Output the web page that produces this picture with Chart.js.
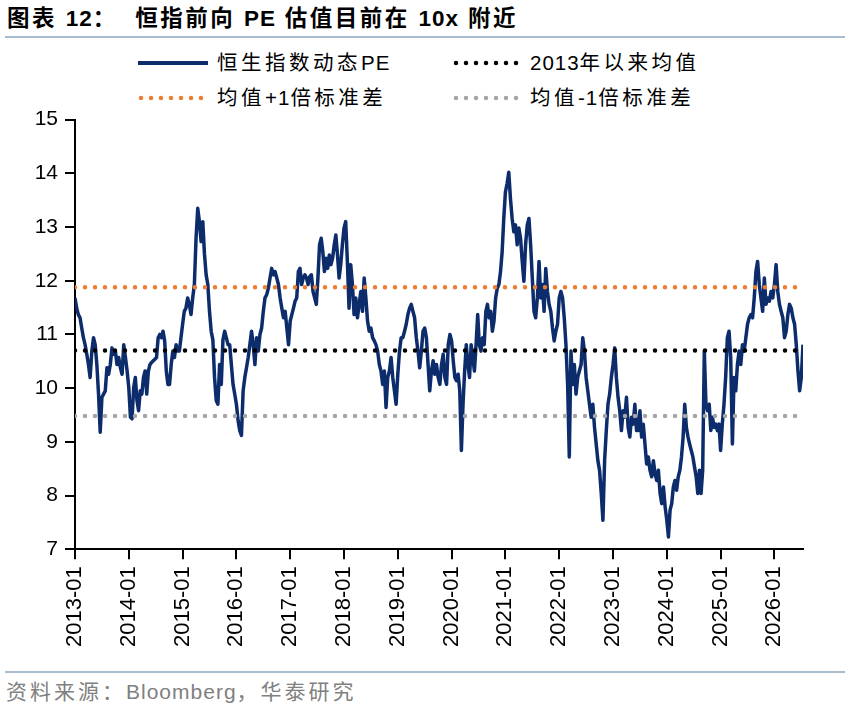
<!DOCTYPE html>
<html><head><meta charset="utf-8">
<script src="https://cdn.jsdelivr.net/npm/chart.js@4.4.1/dist/chart.umd.min.js"></script>
<style>
html,body{margin:0;padding:0;background:#fff;}
#page{position:relative;width:849px;height:716px;overflow:hidden;font-family:"Liberation Sans","Noto Sans CJK SC",Arial,sans-serif;color:#000;}
#title{position:absolute;left:7px;top:6px;font-size:22.5px;font-weight:bold;letter-spacing:2.5px;line-height:26px;white-space:nowrap;}
.rule{position:absolute;left:5px;width:840px;height:2px;background:#a7bbd1;}
.lg{position:absolute;font-size:20.5px;letter-spacing:3.5px;line-height:24px;white-space:nowrap;}
.sw{position:absolute;}
#src{position:absolute;left:6px;top:680px;font-size:21px;letter-spacing:3px;color:#808080;line-height:24px;white-space:nowrap;}
.la{letter-spacing:1px;}
#wrap{position:absolute;left:0;top:100px;width:849px;height:560px;}
</style></head>
<body>
<div id="page">
  <div id="title">图表 <span class="la">12</span>：&nbsp; 恒指前向 <span class="la">PE</span> 估值目前在 <span class="la">10x</span> 附近</div>
  <div class="rule" style="top:36px"></div>

  <svg class="sw" style="left:138px;top:59px" width="72" height="8"><line x1="0" y1="4" x2="70" y2="4" stroke="#0c2c6c" stroke-width="4"/></svg>
  <div class="lg" style="left:217px;top:51px">恒生指数动态<span class="la">PE</span></div>
  <svg class="sw" style="left:453px;top:59px" width="72" height="8"><line x1="3" y1="4" x2="66" y2="4" stroke="#000" stroke-width="4.5" stroke-linecap="round" stroke-dasharray="0 10"/></svg>
  <div class="lg" style="left:530px;top:51px"><span class="la">2013</span>年以来均值</div>
  <svg class="sw" style="left:138px;top:94px" width="72" height="8"><line x1="3" y1="4" x2="66" y2="4" stroke="#ED7D31" stroke-width="4.5" stroke-linecap="round" stroke-dasharray="0 10"/></svg>
  <div class="lg" style="left:217px;top:86px">均值<span class="la">+1</span>倍标准差</div>
  <svg class="sw" style="left:453px;top:94px" width="72" height="8"><line x1="3" y1="4" x2="66" y2="4" stroke="#A5A5A5" stroke-width="4.5" stroke-linecap="round" stroke-dasharray="0 10"/></svg>
  <div class="lg" style="left:530px;top:86px">均值<span class="la">-1</span>倍标准差</div>

  <div id="wrap"><canvas id="c" width="849" height="560"></canvas></div>

  <div class="rule" style="top:671px"></div>
  <div id="src">资料来源：<span class="la">Bloomberg</span>，华泰研究</div>
</div>
<script>
// Hang Seng Index forward PE, sampled ~every 11 days within each year
const pe2013 = [11.68,11.49,11.37,11.31,11.12,10.94,10.81,10.63,10.44,10.20,10.69,10.94,10.81,10.44,9.89,9.18,9.83,9.89,9.95,10.38,10.26,10.44,10.75,10.63,10.69,10.44,10.57,10.38,10.26,10.81,10.57,10.32];
const pe2014 = [10.01,9.46,9.43,10.01,10.20,9.77,9.58,9.95,9.89,10.20,10.32,9.89,10.32,10.44,10.48,10.51,10.54,10.57,10.94,11.00,10.94,11.06,10.88,10.32,10.07,10.07,10.44,10.69,10.57,10.81,10.69,10.69,10.94];
const pe2015 = [11.19,11.43,11.49,11.68,11.56,11.37,11.68,11.93,12.79,13.35,13.10,12.73,13.10,12.50,12.11,11.93,11.43,11.06,10.90,10.20,9.77,9.70,10.44,10.07,10.90,11.06,10.94,10.81,10.81,10.44,10.07,9.89];
const pe2016 = [9.70,9.40,9.21,9.12,9.95,10.20,10.38,10.57,10.81,11.06,10.81,10.44,10.94,10.69,11.00,11.12,11.43,11.68,11.74,11.86,12.05,12.23,12.11,12.17,12.05,11.93,11.68,11.49,11.31,11.43,11.12,10.81];
const pe2017 = [11.25,11.37,11.49,11.62,11.68,12.17,12.23,11.93,12.05,12.11,12.05,11.93,12.08,12.11,11.80,11.68,11.56,12.05,12.67,12.79,12.54,12.17,12.42,12.23,12.48,12.30,12.42,12.67,12.85,12.48,12.05,12.30,12.67];
const pe2018 = [12.98,13.10,12.36,11.49,12.30,11.93,11.37,11.68,11.31,11.56,11.80,11.43,12.05,11.68,11.25,11.06,11.12,10.94,10.88,10.81,10.69,10.44,10.32,10.07,10.32,9.64,10.20,10.32,10.57,10.20,9.95,9.70];
const pe2019 = [10.26,10.69,10.94,10.94,11.06,11.19,11.37,11.49,11.56,11.43,11.31,10.94,10.69,10.38,10.69,11.06,11.12,10.94,10.44,9.95,10.32,10.51,10.26,10.44,10.20,10.07,10.44,10.63,10.20,10.07,10.81,11.00];
const pe2020 = [10.88,10.51,10.20,10.14,10.26,9.95,8.84,9.70,10.32,10.81,10.44,10.20,10.81,10.57,10.32,10.81,11.37,10.81,10.69,10.94,10.81,11.43,11.56,11.31,11.43,11.06,11.25,11.68,11.86,11.93,12.17,12.54,13.16];
const pe2021 = [13.65,13.81,14.02,13.53,13.16,12.91,13.04,12.67,12.98,12.79,12.36,11.99,12.67,13.04,13.16,12.67,12.05,11.43,11.31,11.68,12.36,11.68,11.93,11.43,12.23,11.80,11.56,11.43,11.12,10.88,11.06,11.19];
const pe2022 = [11.68,11.80,11.68,11.31,10.81,10.07,8.72,10.69,10.07,10.44,9.89,10.20,10.32,10.44,10.94,10.69,10.20,9.95,9.70,9.46,9.70,9.27,8.96,8.65,8.47,8.04,7.54,8.65,9.21,9.70,9.89,10.20];
const pe2023 = [10.44,10.75,10.20,9.83,9.58,9.21,9.58,9.46,9.83,9.27,9.09,9.46,9.33,9.70,9.21,9.21,9.58,9.09,9.33,8.96,8.59,8.72,8.47,8.35,8.65,8.41,8.28,8.47,8.04,7.85,8.16,7.79];
const pe2024 = [7.54,7.23,7.73,7.85,8.16,8.28,8.10,8.35,8.47,8.72,9.09,9.70,9.27,9.09,8.96,8.84,8.72,8.53,8.35,8.04,8.47,8.04,8.47,10.69,9.70,9.58,9.70,9.21,9.46,9.27,9.33,9.21,9.33];
const pe2025 = [8.84,9.33,9.70,10.20,10.94,11.06,10.57,8.96,10.20,9.95,10.44,10.69,10.44,10.81,10.69,10.94,11.19,11.31,11.37,11.31,11.68,12.17,12.36,11.93,11.68,11.43,12.05,11.56,11.68,11.62,11.80,11.68];
const pe2026 = [11.93,12.30,11.80,11.56,11.43,11.31,10.94,11.06,11.37,11.56,11.49,11.31,11.19,10.81,10.32,9.95,10.20,10.81];

const years = [2013,2014,2015,2016,2017,2018,2019,2020,2021,2022,2023,2024,2025,2026];
const tickLabels = ['2013-01','2014-01','2015-01','2016-01','2017-01','2018-01','2019-01','2020-01','2021-01','2022-01','2023-01','2024-01','2025-01','2026-01'];
const peByYear = [pe2013,pe2014,pe2015,pe2016,pe2017,pe2018,pe2019,pe2020,pe2021,pe2022,pe2023,pe2024,pe2025,pe2026];

const meanPE = 10.70;   // 2013年以来均值
const upperPE = 11.88;  // 均值+1倍标准差
const lowerPE = 9.48;   // 均值-1倍标准差

const points = [];
years.forEach((y, k) => {
  const arr = peByYear[k];
  const step = (k === years.length - 1) ? 1/32 : 1/arr.length;
  arr.forEach((v, i) => points.push({x: y + i*step, y: v}));
});
const firstX = points[0].x, lastX = points[points.length-1].x;
const flat = v => [{x: firstX, y: v}, {x: lastX, y: v}];

const dotted = (color) => ({borderColor: color, borderWidth: 4.5, borderDash: [0, 10], borderCapStyle: 'round', pointRadius: 0, fill: false, tension: 0});

new Chart(document.getElementById('c'), {
  type: 'line',
  data: {
    datasets: [
      Object.assign({label: '2013年以来均值', data: flat(meanPE), order: 1}, dotted('#000')),
      Object.assign({label: '均值+1倍标准差', data: flat(upperPE), order: 2}, dotted('#ED7D31')),
      Object.assign({label: '均值-1倍标准差', data: flat(lowerPE), order: 3}, dotted('#A5A5A5')),
      {label: '恒生指数动态PE', data: points, borderColor: '#0c2c6c', borderWidth: 3.5, pointRadius: 0, tension: 0, fill: false, order: 4, borderJoinStyle: 'round'}
    ]
  },
  options: {
    responsive: false,
    animation: false,
    layout: {padding: {top: 17.3, right: 46, bottom: 0, left: 0}},
    plugins: {legend: {display: false}, tooltip: {enabled: false}},
    scales: {
      x: {
        type: 'linear', min: firstX, max: lastX,
        afterFit: s => { s.height = 110.7; },
        ticks: {
          stepSize: 1, includeBounds: false, autoSkip: false, maxRotation: 90, minRotation: 90, padding: 7,
          color: '#000', font: {size: 22, family: '"Liberation Sans", Arial, sans-serif'},
          callback: v => { const i = years.indexOf(v); return i >= 0 ? tickLabels[i] : ''; }
        },
        grid: {drawOnChartArea: false, drawTicks: true, tickLength: 10, color: '#000', lineWidth: 2},
        border: {color: '#000', width: 2}
      },
      y: {
        min: 7, max: 15,
        afterFit: s => { s.width = 75; },
        ticks: {stepSize: 1, padding: 7, color: '#000', font: {size: 21, family: '"Liberation Sans", Arial, sans-serif'}},
        grid: {drawOnChartArea: false, drawTicks: true, tickLength: 10, color: '#000', lineWidth: 2},
        border: {color: '#000', width: 2}
      }
    }
  }
});
</script>
</body></html>
